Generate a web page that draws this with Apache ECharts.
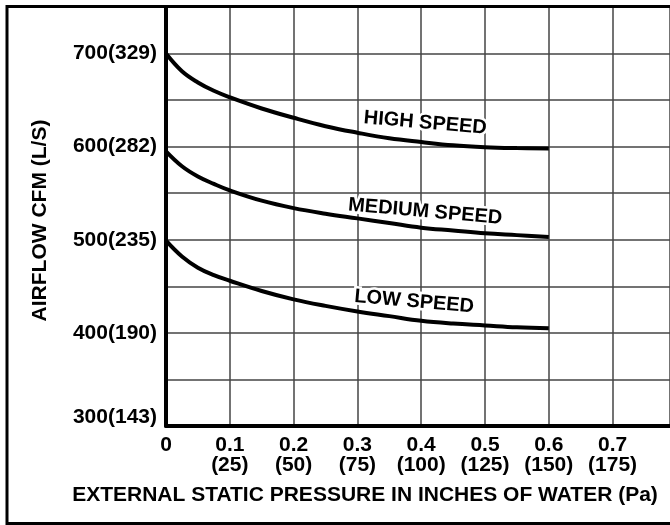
<!DOCTYPE html>
<html>
<head>
<meta charset="utf-8">
<script src="https://cdn.jsdelivr.net/npm/echarts@6/dist/echarts.min.js"></script>
<style>
html,body{margin:0;padding:0;background:#fff;}
#c{width:670px;height:525px;}
</style>
</head>
<body>
<div id="c"></div>
<script>
// ---- data ----
var pressure = [0, 0.025, 0.05, 0.075, 0.1, 0.15, 0.2, 0.25, 0.3, 0.35, 0.4, 0.45, 0.5, 0.55, 0.6];
var highSpeed = [700, 681, 669, 660, 653, 641, 631, 622, 615, 609, 605, 601.5, 599.5, 598.5, 598];
var mediumSpeed = [595, 579, 568, 560, 553, 542, 534, 528, 523, 518, 513, 510, 507, 505, 503];
var lowSpeed = [499, 482, 470, 462, 456, 445, 436, 429, 423, 418, 413, 410, 408, 406, 405];
var seriesNames = ['HIGH SPEED', 'MEDIUM SPEED', 'LOW SPEED'];
var yTickValues = [300, 400, 500, 600, 700];
var yTickLabels = ['300(143)', '400(190)', '500(235)', '600(282)', '700(329)'];
var xTickValues = [0, 0.1, 0.2, 0.3, 0.4, 0.5, 0.6, 0.7];
var xTickLabels = ['0', '0.1\n(25)', '0.2\n(50)', '0.3\n(75)', '0.4\n(100)', '0.5\n(125)', '0.6\n(150)', '0.7\n(175)'];
var xAxisTitle = 'EXTERNAL STATIC PRESSURE IN INCHES OF WATER (Pa)';
var yAxisTitle = 'AIRFLOW CFM (L/S)';

function pairs(ys) { return pressure.map(function (x, i) { return [x, ys[i]]; }); }

var FONT = '"Liberation Sans", Arial, Helvetica, sans-serif';
var chart = echarts.init(document.getElementById('c'), null, {renderer: 'canvas'});

var option = {
  animation: false,
  backgroundColor: '#fff',
  grid: {left: 166, top: 7, right: 0, bottom: 99, containLabel: false, outerBoundsMode: 'none'},
  xAxis: {
    type: 'value', min: 0, max: 0.79, interval: 0.1,
    name: xAxisTitle, nameLocation: 'middle', nameGap: 59,
    nameTextStyle: {fontFamily: FONT, fontWeight: 'bold', fontSize: 21, color: '#000', padding: [0, 106, 0, 0]},
    axisLine: {show: true, lineStyle: {color: '#000', width: 4}},
    axisTick: {show: false},
    splitLine: {show: true, lineStyle: {color: '#444', width: 1.5}},
    axisLabel: {
      margin: 9, color: '#000', fontFamily: FONT, fontWeight: 'bold', fontSize: 21, lineHeight: 20,
      hideOverlap: false,
      formatter: function (v) {
        for (var i = 0; i < xTickValues.length; i++) {
          if (Math.abs(v - xTickValues[i]) < 1e-6) return xTickLabels[i];
        }
        return '';
      }
    }
  },
  yAxis: {
    type: 'value', min: 300, max: 750, interval: 50,
    name: yAxisTitle, nameLocation: 'middle', nameGap: 115, nameRotate: 90,
    nameTextStyle: {fontFamily: FONT, fontWeight: 'bold', fontSize: 21, color: '#000', padding: [0, 8, 0, 0]},
    axisLine: {show: true, lineStyle: {color: '#000', width: 4}},
    axisTick: {show: false},
    splitLine: {show: true, lineStyle: {color: '#444', width: 1.5}},
    axisLabel: {
      margin: 9, color: '#000', fontFamily: FONT, fontWeight: 'bold', fontSize: 21,
      formatter: function (v) {
        var i = yTickValues.indexOf(v);
        if (i < 0) return '';
        if (i === 0) return '{low|' + yTickLabels[i] + '}';
        return yTickLabels[i];
      },
      rich: {low: {fontFamily: FONT, fontWeight: 'bold', fontSize: 21, color: '#000', padding: [0, 0, 18, 0]}}
    }
  },
  series: [highSpeed, mediumSpeed, lowSpeed].map(function (d, k) {
    return {
      name: seriesNames[k], type: 'line', data: pairs(d), smooth: 0.4,
      showSymbol: false, symbol: 'none', z: 3,
      lineStyle: {color: '#000', width: 4}
    };
  })
};
chart.setOption(option);

// curve labels, anchored to curve at x = 0.4
var labelSpecs = [
  {name: seriesNames[0], data: highSpeed, dx: 4, dy: -19},
  {name: seriesNames[1], data: mediumSpeed, dx: 4, dy: -16},
  {name: seriesNames[2], data: lowSpeed, dx: -7, dy: -19}
];
var idx = pressure.indexOf(0.4);
var graphics = [{
  type: 'rect', z: 100, silent: true,
  shape: {x: 7, y: 6.5, width: 720, height: 517},
  style: {fill: 'none', stroke: '#000', lineWidth: 3}
}];
labelSpecs.forEach(function (s) {
  var p = chart.convertToPixel({gridIndex: 0}, [0.4, s.data[idx]]);
  graphics.push({
    type: 'text', z: 50, x: p[0] + s.dx, y: p[1] + s.dy, rotation: -5 * Math.PI / 180,
    style: {text: s.name, font: 'bold 20px ' + FONT, fill: '#000', align: 'center', verticalAlign: 'middle',
      stroke: '#fff', lineWidth: 5}
  });
});
chart.setOption({graphic: graphics});
</script>
</body>
</html>
